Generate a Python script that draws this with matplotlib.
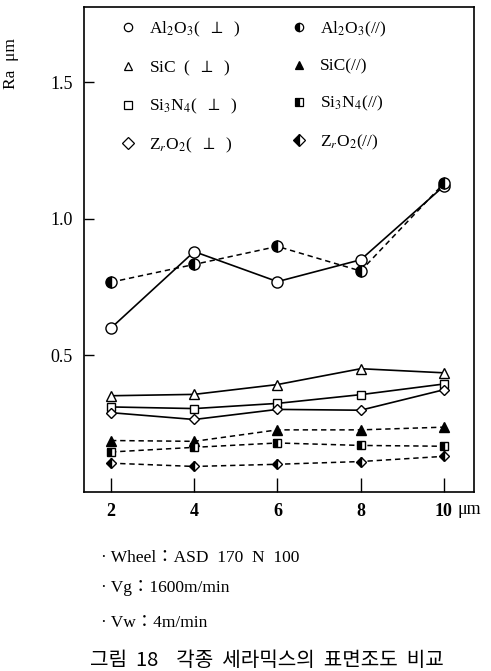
import matplotlib.pyplot as plt
from matplotlib.lines import Line2D

plt.rcParams['font.family'] = ['Liberation Serif', 'DejaVu Serif']
plt.rcParams['mathtext.fontset'] = 'stix'

# depth of cut, um
depth = [2, 4, 6, 8, 10]

# Ra (um), perpendicular grinding
al2o3_perp = [0.60, 0.88, 0.77, 0.85, 1.12]
sic_perp = [0.352, 0.357, 0.393, 0.451, 0.436]
si3n4_perp = [0.311, 0.305, 0.324, 0.356, 0.395]
zro2_perp = [0.290, 0.265, 0.302, 0.299, 0.374]

# Ra (um), parallel grinding
al2o3_par = [0.768, 0.833, 0.899, 0.809, 1.13]
sic_par = [0.188, 0.185, 0.227, 0.227, 0.237]
si3n4_par = [0.146, 0.163, 0.179, 0.170, 0.167]
zro2_par = [0.105, 0.093, 0.101, 0.111, 0.130]

labels_perp = [r'Al$_2$O$_3$(  $\perp$  )', r'SiC  (  $\perp$  )',
               r'Si$_3$N$_4$(  $\perp$  )', r'Z$_r$O$_2$(  $\perp$  )']
labels_par = [r'Al$_2$O$_3$(//)', r'SiC(//)', r'Si$_3$N$_4$(//)', r'Z$_r$O$_2$(//)']

fig = plt.figure(figsize=(4.91, 6.71), dpi=100)
ax = fig.add_axes([0.171, 0.267, 0.794, 0.723])

markers = ['o', '^', 's', 'D']
sizes = [8, 7, 6, 5]
handles = []
perp = [al2o3_perp, sic_perp, si3n4_perp, zro2_perp]
par = [al2o3_par, sic_par, si3n4_par, zro2_par]

for ys, m, ms, lab in zip(perp, markers, sizes, labels_perp):
    ax.plot(depth, ys, color='black', lw=1.2, marker=m, ms=ms,
            mfc='white', mec='black', mew=1.0)
    handles.append(Line2D([], [], ls='none', marker=m, ms=6, mfc='white',
                          mec='black', mew=0.9, label=lab))

for ys, m, ms, lab in zip(par, markers, sizes, labels_par):
    fill = 'full' if m == '^' else 'left'
    ax.plot(depth, ys, color='black', lw=1.1, ls=(0, (3.5, 2.5)), marker=m,
            ms=ms, fillstyle=fill, mfc='black', mfcalt='white', mec='black', mew=1.0)
    handles.append(Line2D([], [], ls='none', marker=m, ms=6, fillstyle=fill,
                          mfc='black', mfcalt='white', mec='black', mew=0.9, label=lab))

ax.legend(handles=handles, ncol=2, frameon=False, loc='upper left',
          bbox_to_anchor=(0.05, 1.005), fontsize=12.5, handlelength=1.0,
          handletextpad=0.7, columnspacing=2.9, labelspacing=1.12)

ax.set_xlim(1.35, 10.72)
ax.set_ylim(0, 1.777)
ax.set_xticks(depth)
ax.set_xticklabels(['2', '4', '6', '8', '10'])
ax.set_yticks([0.5, 1.0, 1.5])
ax.set_yticklabels(['0.5', '1.0', '1.5'])
ax.tick_params(axis='x', direction='in', length=10, width=1.0, labelsize=13, pad=8)
ax.tick_params(axis='y', direction='in', length=7, width=1.0, labelsize=13, pad=8)
for lab in ax.get_xticklabels():
    lab.set_fontweight('bold')
ax.text(10.33, -0.064, 'μm', transform=ax.transData, fontsize=13,
        ha='left', va='center', clip_on=False)
for sp in ax.spines.values():
    sp.set_linewidth(1.2)

fig.text(0.022, 0.905, 'Ra  μm', rotation=90, ha='center', va='center', fontsize=12.5)

note_fonts = ['Liberation Serif', 'Noto Sans CJK KR']
fig.text(0.205, 0.168, '· Wheel：ASD  170  N  100', fontsize=12.5, va='center', family=note_fonts)
fig.text(0.205, 0.124, '· Vg：1600m/min', fontsize=12.5, va='center', family=note_fonts)
fig.text(0.205, 0.072, '· Vw：4m/min', fontsize=12.5, va='center', family=note_fonts)
fig.text(0.183, 0.016, '그림  18    각종  세라믹스의  표면조도  비교', fontsize=14.5,
         va='center', family=['Noto Sans CJK KR', 'DejaVu Sans'])

fig.savefig('out.png', dpi=100)
